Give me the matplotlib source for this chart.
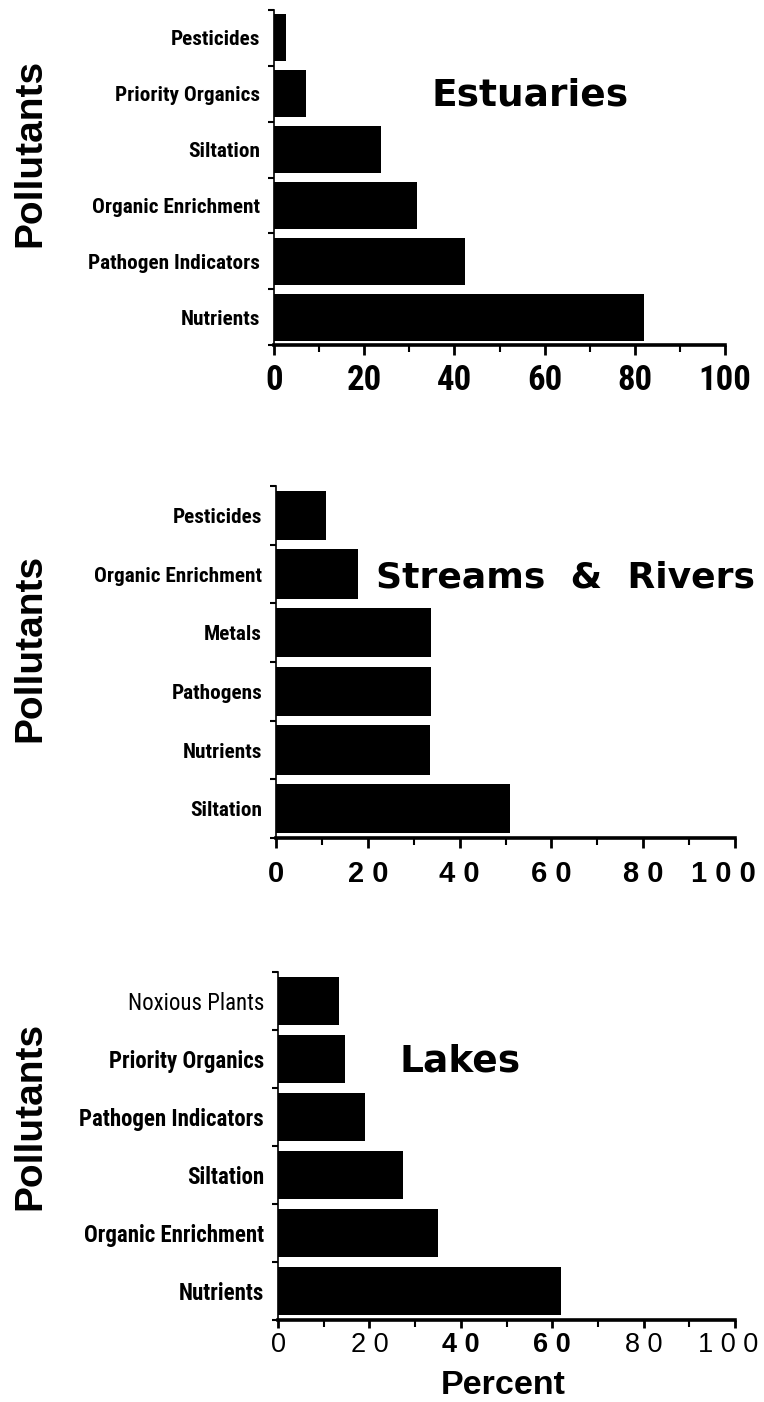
import numpy as np
import matplotlib.pyplot as plt
from matplotlib import font_manager as fm
from matplotlib.ticker import FixedLocator, MultipleLocator
from matplotlib.transforms import ScaledTranslation

# Datos (en porcentaje)
est_labels = ['Pesticides', 'Priority Organics', 'Siltation',
              'Organic Enrichment', 'Pathogen Indicators', 'Nutrients']
est_values = [2.7, 7.0, 23.8, 31.6, 42.4, 82.0]

riv_labels = ['Pesticides', 'Organic Enrichment', 'Metals',
              'Pathogens', 'Nutrients', 'Siltation']
riv_values = [11.0, 17.8, 33.8, 33.8, 33.6, 51.0]

lake_labels = ['Noxious Plants', 'Priority Organics', 'Pathogen Indicators',
               'Siltation', 'Organic Enrichment', 'Nutrients']
lake_values = [13.4, 14.7, 19.1, 27.3, 35.1, 62.0]

x_ticks = [0, 20, 40, 60, 80, 100]
est_xlabels = ['0', '20', '40', '60', '80', '100']
riv_xlabels = ['0', '2 0', '4 0', '6 0', '8 0', '1 0 0']
lake_xlabels = ['0', '2 0', '4 0', '6 0', '8 0', '1 0 0']

# Buscar una fuente estrecha instalada; si no hay, Liberation Sans mas pequena
fuentes = [(f.name, f.stretch) for f in fm.fontManager.ttflist]
nombres = {n for n, s in fuentes}
if 'Liberation Sans Narrow' in nombres:
    NARROW, STRETCH, FACTOR = ['Liberation Sans Narrow'], 'normal', 1.0
elif 'Roboto Condensed' in nombres:
    NARROW, STRETCH, FACTOR = ['Roboto Condensed'], 'normal', 1.0
elif ('DejaVu Sans', 'condensed') in fuentes or ('DejaVu Sans', 'semi-condensed') in fuentes:
    NARROW, STRETCH, FACTOR = ['DejaVu Sans'], 'condensed', 0.85
else:
    NARROW, STRETCH, FACTOR = ['Liberation Sans', 'DejaVu Sans'], 'normal', 0.88
BOLD = ['Liberation Sans', 'DejaVu Sans']
TITLE = ['DejaVu Sans']

W, H = 764, 1402
fig = plt.figure(figsize=(W / 100, H / 100), dpi=100)


def caja(left, top, right, bottom):
    # pixeles -> fraccion de figura
    return [left / W, 1 - bottom / H, (right - left) / W, (bottom - top) / H]


def panel(rect, labels, values, xlabels, ysize, xpad, xlen=7):
    ax = fig.add_axes(rect)
    pos = np.arange(len(labels))
    ax.barh(pos, values, height=0.84, color='black')
    ax.set_xlim(0, 100)
    ax.set_ylim(len(labels) - 0.5, -0.5)

    for s in ['top', 'right']:
        ax.spines[s].set_visible(False)
    ax.spines['bottom'].set_linewidth(2.6)
    ax.spines['left'].set_linewidth(1.2)

    ax.set_yticks(pos)
    ax.set_yticklabels(labels, family=NARROW, fontstretch=STRETCH,
                       fontweight='bold', fontsize=ysize * FACTOR)
    ax.yaxis.set_minor_locator(FixedLocator(np.arange(-0.5, len(labels), 1)))
    ax.tick_params(axis='y', which='major', length=0, pad=10)
    ax.tick_params(axis='y', which='minor', length=4, width=1.5)

    ax.set_xticks(x_ticks)
    ax.set_xticklabels(xlabels)
    ax.xaxis.set_minor_locator(MultipleLocator(10))
    ax.tick_params(axis='x', which='major', length=xlen, width=2, pad=xpad)
    ax.tick_params(axis='x', which='minor', length=5, width=1.5)
    return ax


def correr_ultimo(ax, dx):
    # desplaza la ultima etiqueta del eje x unos pixeles
    t = ax.get_xticklabels()[-1]
    t.set_transform(t.get_transform() + ScaledTranslation(dx / 100, 0, fig.dpi_scale_trans))


ax1 = panel(caja(274, 10, 725, 345), est_labels, est_values, est_xlabels, 15.3, 7)
for t in ax1.get_xticklabels():
    t.set_family(NARROW)
    t.set_fontstretch(STRETCH)
    t.set_fontweight('bold')
    t.set_fontsize(25 * FACTOR)

ax2 = panel(caja(276, 486, 735, 838), riv_labels, riv_values, riv_xlabels, 15.3, 9)
for t in ax2.get_xticklabels():
    t.set_family(BOLD)
    t.set_fontweight('bold')
    t.set_fontsize(21)
correr_ultimo(ax2, -12)

ax3 = panel(caja(278, 972, 735, 1320), lake_labels, lake_values, lake_xlabels, 16.5, 3, 6)
for i, t in enumerate(ax3.get_xticklabels()):
    t.set_family(BOLD)
    t.set_fontsize(19.5)
    if lake_xlabels[i] in ('4 0', '6 0'):
        t.set_fontweight('bold')
correr_ultimo(ax3, -7)
# "Noxious Plants" va en trazo normal
ax3.get_yticklabels()[0].set_fontweight('normal')

# Titulos de cada panel
fig.text(530 / W, 1 - 95 / H, 'Estuaries', family=TITLE, fontweight='bold',
         fontsize=27, ha='center', va='center')
fig.text(565 / W, 1 - 577 / H, 'Streams  &  Rivers', family=TITLE, fontweight='bold',
         fontsize=26, ha='center', va='center')
fig.text(460 / W, 1 - 1061 / H, 'Lakes', family=TITLE, fontweight='bold',
         fontsize=27, ha='center', va='center')

# Etiquetas de eje
for yc in [153, 648, 1116]:
    fig.text(30 / W, 1 - yc / H, 'Pollutants', family=BOLD, fontweight='bold',
             fontsize=28, rotation=90, ha='center', va='center')
fig.text(503 / W, 1 - 1394.5 / H, 'Percent', family=BOLD, fontweight='bold',
         fontsize=24.5, ha='center', va='baseline')

fig.savefig('out.png', dpi=100)
